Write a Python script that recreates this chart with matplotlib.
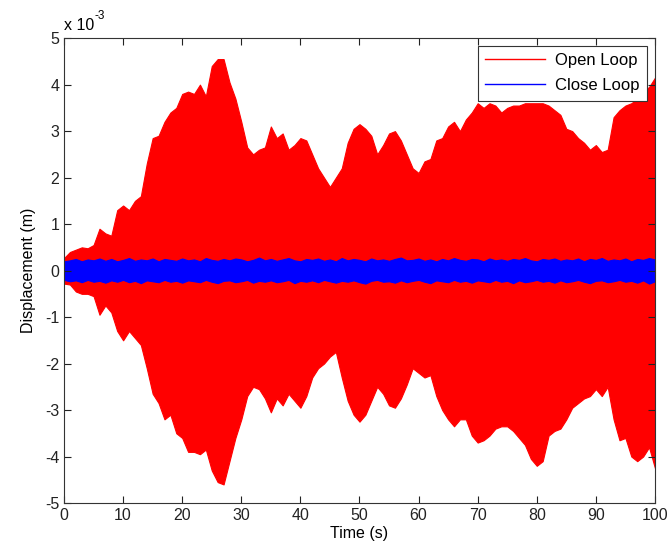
import numpy as np
import matplotlib
matplotlib.use("Agg")
import matplotlib.pyplot as plt

plt.rcParams['font.family'] = ['Liberation Sans', 'DejaVu Sans']
plt.rcParams['axes.unicode_minus'] = False

# time grid (s)
time_s = list(range(0, 101))

# Open loop envelope (x 1e-3 m)
open_upper = [0.27, 0.4, 0.45, 0.5, 0.48, 0.55, 0.9, 0.8, 0.75, 1.3,
              1.4, 1.3, 1.5, 1.6, 2.3, 2.85, 2.9, 3.2, 3.4, 3.5,
              3.8, 3.85, 3.8, 4.0, 3.75, 4.4, 4.55, 4.55, 4.05, 3.7,
              3.2, 2.65, 2.5, 2.6, 2.65, 3.1, 2.85, 2.95, 2.6, 2.7,
              2.85, 2.8, 2.5, 2.2, 2.0, 1.8, 2.0, 2.2, 2.75, 3.05,
              3.15, 3.05, 2.9, 2.5, 2.7, 2.95, 3.0, 2.8, 2.5, 2.2,
              2.1, 2.35, 2.4, 2.8, 2.85, 3.1, 3.2, 3.0, 3.25, 3.4,
              3.6, 3.5, 3.6, 3.55, 3.4, 3.5, 3.55, 3.55, 3.6, 3.6,
              3.6, 3.6, 3.55, 3.45, 3.35, 3.05, 3.0, 2.85, 2.75, 2.6,
              2.7, 2.55, 2.6, 3.3, 3.45, 3.55, 3.6, 3.7, 3.85, 3.95,
              4.15]
open_lower = [-0.28, -0.3, -0.45, -0.5, -0.5, -0.55, -0.95, -0.75, -0.9, -1.3,
              -1.5, -1.3, -1.45, -1.6, -2.1, -2.65, -2.85, -3.2, -3.1, -3.5,
              -3.6, -3.9, -3.9, -3.95, -3.85, -4.3, -4.55, -4.6, -4.1, -3.6,
              -3.2, -2.7, -2.5, -2.55, -2.75, -3.05, -2.75, -2.9, -2.65, -2.8,
              -2.95, -2.7, -2.3, -2.1, -2.0, -1.85, -1.75, -2.3, -2.8, -3.1,
              -3.25, -3.1, -2.8, -2.5, -2.65, -2.9, -2.95, -2.75, -2.45, -2.1,
              -2.2, -2.3, -2.25, -2.7, -3.0, -3.2, -3.35, -3.2, -3.2, -3.55,
              -3.7, -3.65, -3.55, -3.4, -3.35, -3.35, -3.45, -3.6, -3.75, -4.05,
              -4.2, -4.1, -3.55, -3.45, -3.4, -3.2, -2.95, -2.85, -2.75, -2.7,
              -2.55, -2.7, -2.5, -3.2, -3.65, -3.6, -4.0, -4.1, -4.0, -3.8,
              -4.25]

# Close loop envelope (x 1e-3 m)
close_upper = [0.2, 0.22, 0.25, 0.2, 0.24, 0.22, 0.26, 0.21, 0.25, 0.2,
               0.23, 0.27, 0.21, 0.24, 0.22, 0.26, 0.2, 0.25, 0.23, 0.21,
               0.26, 0.22, 0.24, 0.2, 0.27, 0.23, 0.21, 0.25, 0.22, 0.26,
               0.24, 0.2, 0.23, 0.28, 0.22, 0.25, 0.21, 0.24, 0.27, 0.22,
               0.2, 0.25, 0.23, 0.26, 0.21, 0.24, 0.2, 0.27, 0.22, 0.25,
               0.23, 0.2, 0.26, 0.22, 0.24, 0.21, 0.25, 0.28, 0.22, 0.23,
               0.26, 0.21, 0.24, 0.2, 0.25, 0.22, 0.27, 0.23, 0.21, 0.25,
               0.24, 0.2, 0.26, 0.22, 0.24, 0.21, 0.25, 0.23, 0.27, 0.22,
               0.2, 0.25, 0.23, 0.26, 0.21, 0.24, 0.22, 0.26, 0.2, 0.25,
               0.23, 0.27, 0.21, 0.24, 0.22, 0.26, 0.2, 0.25, 0.23, 0.27,
               0.24]
close_lower = [-0.2, -0.23, -0.21, -0.25, -0.2, -0.24, -0.22, -0.26, -0.21, -0.24,
               -0.2, -0.25, -0.22, -0.27, -0.21, -0.23, -0.25, -0.2, -0.24, -0.22,
               -0.26, -0.21, -0.23, -0.25, -0.2, -0.24, -0.27, -0.22, -0.21, -0.25,
               -0.23, -0.2, -0.26, -0.22, -0.24, -0.21, -0.25, -0.23, -0.2, -0.27,
               -0.22, -0.24, -0.21, -0.25, -0.2, -0.23, -0.26, -0.22, -0.24, -0.21,
               -0.25, -0.28, -0.22, -0.2, -0.24, -0.23, -0.26, -0.21, -0.25, -0.22,
               -0.2, -0.24, -0.27, -0.21, -0.23, -0.25, -0.2, -0.24, -0.22, -0.26,
               -0.21, -0.23, -0.25, -0.2, -0.24, -0.22, -0.27, -0.21, -0.25, -0.23,
               -0.2, -0.24, -0.22, -0.26, -0.21, -0.25, -0.23, -0.2, -0.24, -0.27,
               -0.22, -0.21, -0.25, -0.23, -0.2, -0.24, -0.22, -0.26, -0.21, -0.28,
               -0.23]

x_ticks = [0, 10, 20, 30, 40, 50, 60, 70, 80, 90, 100]
y_ticks = [-5, -4, -3, -2, -1, 0, 1, 2, 3, 4, 5]

fig = plt.figure(figsize=(6.69, 5.53), dpi=100)
ax = fig.add_axes([0.0957, 0.0904, 0.8833, 0.8406])

t = np.array(time_s, dtype=float)
ax.fill_between(t, open_lower, open_upper, color='#ff0000', linewidth=0.8,
                edgecolor='#ff0000')
ax.fill_between(t, close_lower, close_upper, color='#0000ff', linewidth=0.8,
                edgecolor='#0000ff')

ax.plot([], [], color='#ff0000', lw=1, label='Open Loop')
ax.plot([], [], color='#0000ff', lw=1, label='Close Loop')

ax.set_xlim(0, 100)
ax.set_ylim(-5, 5)
ax.set_xticks(x_ticks)
ax.set_yticks(y_ticks)
ax.tick_params(direction='in', length=5, labelsize=11.5, top=True, right=True,
               colors='#222222')
ax.set_xlabel('Time (s)', fontsize=11.5, labelpad=2)
ax.set_ylabel('Displacement (m)', fontsize=11.5, labelpad=6)
ax.text(0.0, 1.012, 'x 10', transform=ax.transAxes, fontsize=11.5,
        ha='left', va='bottom')
ax.text(0.052, 1.035, '-3', transform=ax.transAxes, fontsize=8.5,
        ha='left', va='bottom')
for s in ax.spines.values():
    s.set_color('#333333')
    s.set_linewidth(0.8)

leg = ax.legend(loc='upper right', fontsize=12, fancybox=False, framealpha=1,
                edgecolor='#333333', borderaxespad=0.45, handlelength=3.6,
                handletextpad=0.6, borderpad=0.45, labelspacing=0.6)
leg.get_frame().set_linewidth(0.8)

fig.savefig('out.png', dpi=100)
